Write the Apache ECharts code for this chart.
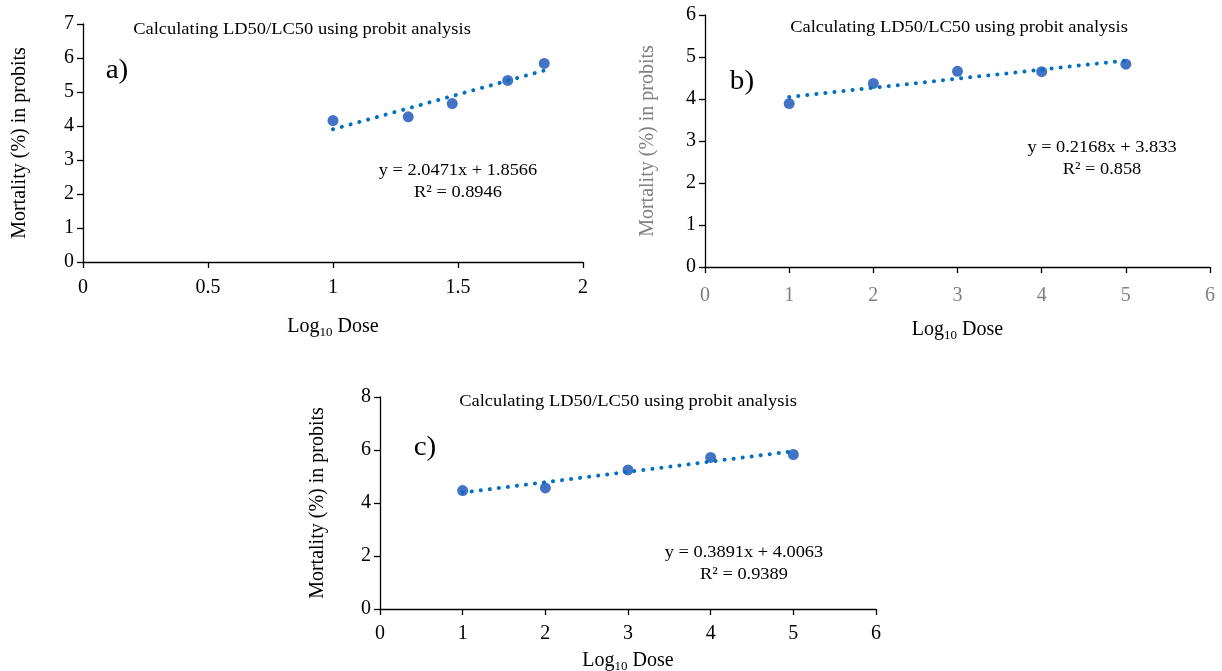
<!DOCTYPE html>
<html>
<head>
<meta charset="utf-8">
<script src="https://cdn.jsdelivr.net/npm/echarts@6/dist/echarts.min.js"></script>
<style>
  html, body { margin: 0; padding: 0; background: #fff; }
  #chart { width: 1222px; height: 671px; }
</style>
</head>
<body>
<div id="chart"></div>
<script>
// panel a) -- log10 dose vs probit
const doseA = [1, 1.301, 1.477, 1.699, 1.845]
const probitA = [4.16, 4.27, 4.66, 5.34, 5.84]
const fitA = [2.0471, 1.8566]   // slope, intercept
const xTicksA = [0, 0.5, 1, 1.5, 2]
const yTicksA = [0, 1, 2, 3, 4, 5, 6, 7]

// panel b)
const doseB = [1, 2, 3, 4, 5]
const probitB = [3.89, 4.37, 4.66, 4.65, 4.83]
const fitB = [0.2168, 3.833]
const xTicksB = [0, 1, 2, 3, 4, 5, 6]
const yTicksB = [0, 1, 2, 3, 4, 5, 6]

// panel c)
const doseC = [1, 2, 3, 4, 5]
const probitC = [4.47, 4.57, 5.25, 5.72, 5.83]
const fitC = [0.3891, 4.0063]
const xTicksC = [0, 1, 2, 3, 4, 5, 6]
const yTicksC = [0, 2, 4, 6, 8]

const equations = ['y = 2.0471x + 1.8566\nR² = 0.8946', 'y = 0.2168x + 3.833\nR² = 0.858', 'y = 0.3891x + 4.0063\nR² = 0.9389']
const panelLabels = ['a)', 'b)', 'c)']
const chartTitle = 'Calculating LD50/LC50 using probit analysis'

const FONT = '"Liberation Serif", "Times New Roman", serif'
const dotColor = '#4472C4'
const trendColor = '#0070C0'

function pares(xs, ys) {
	return xs.map((x, i) => [x, ys[i]])
}

function trend(xs, fit) {
	const x0 = Math.min(...xs), x1 = Math.max(...xs)
	return [[x0, fit[0] * x0 + fit[1]], [x1, fit[0] * x1 + fit[1]]]
}

function eixoX(idx, ticks, nameGap, labelColor, margin) {
	return {
		type: 'value', gridIndex: idx,
		min: ticks[0], max: ticks[ticks.length - 1], interval: ticks[1] - ticks[0],
		name: 'Log{sub|10} Dose', nameLocation: 'middle', nameGap: nameGap,
		nameTextStyle: {
			fontFamily: FONT, fontSize: 20, color: '#000',
			rich: { sub: { fontFamily: FONT, fontSize: 13, verticalAlign: 'bottom', padding: [11, 0, 0, 0] } }
		},
		splitLine: { show: false },
		axisLine: { lineStyle: { color: '#000', width: 1.3 } },
		axisTick: { show: true, length: 6, lineStyle: { color: '#000', width: 1.3 } },
		axisLabel: { fontFamily: FONT, fontSize: 20, color: labelColor, margin: margin }
	}
}

function eixoY(idx, ticks, nameGap, nameColor) {
	return {
		type: 'value', gridIndex: idx,
		min: ticks[0], max: ticks[ticks.length - 1], interval: ticks[1] - ticks[0],
		name: 'Mortality (%) in probits', nameLocation: 'middle', nameGap: nameGap,
		nameTextStyle: { fontFamily: FONT, fontSize: 20, color: nameColor },
		splitLine: { show: false },
		axisLine: { show: true, lineStyle: { color: '#000', width: 1.3 } },
		axisTick: { show: true, length: 6, lineStyle: { color: '#000', width: 1.3 } },
		axisLabel: { fontFamily: FONT, fontSize: 20, color: '#000', margin: 9 }
	}
}

function series(idx, xs, ys, fit) {
	return [
		{
			type: 'line', xAxisIndex: idx, yAxisIndex: idx, data: trend(xs, fit),
			symbol: 'none', silent: true,
			lineStyle: { color: trendColor, width: 4, type: [0.1, 9], cap: 'round' }
		},
		{
			type: 'scatter', xAxisIndex: idx, yAxisIndex: idx, data: pares(xs, ys),
			symbolSize: 11, itemStyle: { color: dotColor, opacity: 1 }
		}
	]
}

// free text, centred on x, stretched a little horizontally like the source
function texto(x, y, text, size, stretch, lh) {
	return {
		type: 'text', x: x, y: y, scaleX: stretch,
		style: {
			text: text, fontFamily: FONT, fontSize: size, fill: '#000',
			align: 'center', verticalAlign: 'top', lineHeight: lh || size * 1.2
		}
	}
}

const myChart = echarts.init(document.getElementById('chart'))

myChart.setOption({
	animation: false,
	backgroundColor: '#fff',
	grid: [
		{ left: 83, top: 24, width: 500, height: 238, outerBoundsMode: 'none', containLabel: false },
		{ left: 705, top: 15, width: 505, height: 252, outerBoundsMode: 'none', containLabel: false },
		{ left: 380, top: 397, width: 496, height: 212, outerBoundsMode: 'none', containLabel: false }
	],
	xAxis: [
		eixoX(0, xTicksA, 53, '#000', 16),
		eixoX(1, xTicksB, 51, '#7f7f7f', 19),
		eixoX(2, xTicksC, 40, '#000', 15)
	],
	yAxis: [
		eixoY(0, yTicksA, 53, '#000'),
		eixoY(1, yTicksB, 47, '#7f7f7f'),
		eixoY(2, yTicksC, 52, '#000')
	],
	series: [
		...series(0, doseA, probitA, fitA),
		...series(1, doseB, probitB, fitB),
		...series(2, doseC, probitC, fitC)
	],
	graphic: [
		texto(302, 20, chartTitle, 16.5, 1.12),
		texto(959, 18, chartTitle, 16.5, 1.12),
		texto(628, 392, chartTitle, 16.5, 1.12),
		texto(117, 55, panelLabels[0], 27, 1.08),
		texto(742, 66, panelLabels[1], 27, 1.08),
		texto(425, 432, panelLabels[2], 27, 1.08),
		texto(458, 160, equations[0], 17, 1.08, 21.5),
		texto(1102, 137, equations[1], 17, 1.08, 21.5),
		texto(744, 542, equations[2], 17, 1.08, 21.5)
	]
})

window.addEventListener('resize', () => myChart.resize())
</script>
</body>
</html>
